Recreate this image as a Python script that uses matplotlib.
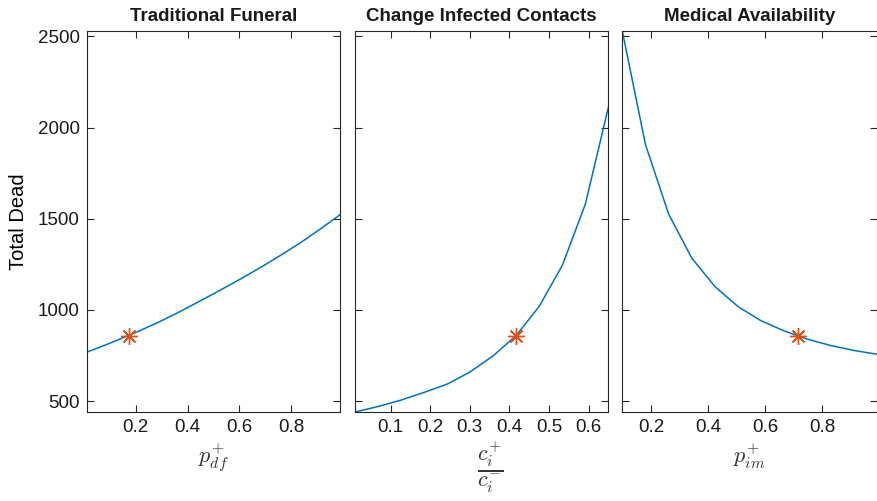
import numpy as np
import matplotlib
matplotlib.use("Agg")
import matplotlib.pyplot as plt

plt.rcParams["font.family"] = ["Liberation Sans", "DejaVu Sans"]
plt.rcParams["mathtext.fontset"] = "cm"

# Traditional funeral: probability of a traditional funeral
funeral_p = [0.01, 0.08, 0.15, 0.22, 0.29, 0.36, 0.43, 0.50, 0.57, 0.64, 0.71, 0.78, 0.85, 0.92, 0.99]
funeral_dead = [768, 806, 847, 889, 934, 983, 1035, 1088, 1142, 1198, 1256, 1317, 1381, 1450, 1522]
funeral_base = (0.173, 859)

# Change in infected contacts: ratio c_i^+ / c_i^-
contact_ratio = [0.01, 0.068, 0.126, 0.185, 0.243, 0.301, 0.359, 0.417, 0.475, 0.534, 0.592, 0.65]
contact_dead = [440, 470, 505, 548, 593, 660, 748, 859, 1018, 1245, 1580, 2110]
contact_base = (0.417, 859)

# Medical availability: probability of isolation / medical care
medical_p = [0.1, 0.181, 0.262, 0.343, 0.424, 0.505, 0.585, 0.666, 0.747, 0.828, 0.909, 0.99]
medical_dead = [2530, 1907, 1526, 1284, 1128, 1018, 941, 885, 840, 805, 778, 757]
medical_base = (0.713, 859)

titles = ["Traditional Funeral", "Change Infected Contacts", "Medical Availability"]
xlabels = [r"$p_{df}^{+}$", r"$\genfrac{}{}{2}{0}{c_i^{+}}{c_i^{-}}$", r"$p_{im}^{+}$"]
xticks = [[0.2, 0.4, 0.6, 0.8], [0.1, 0.2, 0.3, 0.4, 0.5, 0.6], [0.2, 0.4, 0.6, 0.8]]
yticks = [500, 1000, 1500, 2000, 2500]

series = [
    (funeral_p, funeral_dead, funeral_base),
    (contact_ratio, contact_dead, contact_base),
    (medical_p, medical_dead, medical_base),
]

all_dead = funeral_dead + contact_dead + medical_dead
ylim = (min(all_dead), max(all_dead))

fig = plt.figure(figsize=(8.77, 5.01), dpi=100)
W, H = 877, 501
boxes = [(86.7, 340.0), (355.0, 608.3), (622.3, 876.7)]
top_px, bot_px = 31, 412

line_color = "#0072BD"
star_color = "#D95319"
axis_color = "#262626"

for i, ((xs, ys, base), (x0, x1)) in enumerate(zip(series, boxes)):
    ax = fig.add_axes([x0 / W, (H - bot_px) / H, (x1 - x0) / W, (bot_px - top_px) / H])
    ax.plot(xs, ys, color=line_color, lw=1.1)
    ax.plot([base[0]], [base[1]], linestyle="none", marker=(8, 2, 0),
            markersize=12, markeredgewidth=1.0, color=star_color)
    ax.set_xlim(xs[0], xs[-1])
    ax.set_ylim(*ylim)
    ax.set_xticks(xticks[i])
    ax.set_xticklabels([f"{t:g}" for t in xticks[i]])
    ax.set_yticks(yticks)
    if i == 0:
        ax.set_yticklabels([str(t) for t in yticks])
        ax.set_ylabel("Total Dead", fontsize=14.5, color="black", labelpad=7)
    else:
        ax.set_yticklabels([])
    ax.tick_params(direction="in", top=True, right=True, length=5, width=0.8,
                   labelsize=13.5, colors=axis_color, labelcolor="#1a1a1a", pad=5)
    for sp in ax.spines.values():
        sp.set_color(axis_color)
        sp.set_linewidth(0.8)
    ax.set_title(titles[i], fontsize=13.5, fontweight="bold", color="#1a1a1a", pad=7)
    ax.set_xlabel(xlabels[i], fontsize=16, color="#333333", labelpad=4)
    if i == 1:
        ax.xaxis.set_label_coords(0.535, -0.074)

fig.savefig("out.png", dpi=100)
